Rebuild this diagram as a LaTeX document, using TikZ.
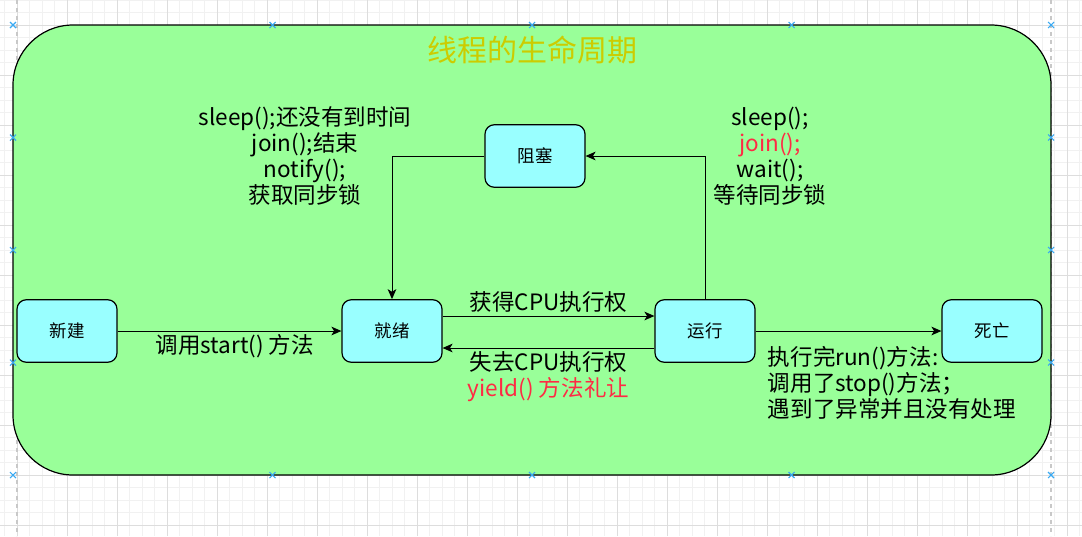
\documentclass[tikz,border=0pt]{standalone}
\usepackage{fontspec}
\setmainfont{Noto Sans CJK SC}
\usepackage{xcolor}
\usetikzlibrary{
    arrows.meta,
    positioning
}

\definecolor{lifegreen}{HTML}{99FF99}
\definecolor{statecyan}{HTML}{99FFFF}
\definecolor{titleyellow}{HTML}{CCCC00}
\definecolor{notered}{HTML}{FF2A44}
\definecolor{gridminor}{HTML}{F1F1F1}
\definecolor{gridmajor}{HTML}{DDDDDD}
\definecolor{pageline}{HTML}{C8C8C8}
\definecolor{handleblue}{HTML}{39A9F2}

\begin{document}
\begin{tikzpicture}[
    x=0.75pt, y=-0.75pt,
    font=\fontsize{16.9pt}{19.6pt}\selectfont,
    container/.style={
        rectangle,
        rounded corners=45pt,
        draw=black,
        line width=0.9pt,
        fill=lifegreen,
        minimum width=778.5pt,
        minimum height=337.5pt
    },
    state/.style={
        rectangle,
        rounded corners=7pt,
        draw=black,
        line width=0.9pt,
        fill=statecyan,
        minimum width=75pt,
        minimum height=46.9pt,
        font=\fontsize{13.1pt}{15pt}\selectfont
    },
    arrow/.style={
        -{Stealth[length=7.5pt,width=6.5pt,inset=2pt]},
        line width=0.75pt,
        draw=black
    },
    note/.style={
        align=center,
        inner sep=2pt
    },
    handle/.style={
        draw=handleblue,
        line width=0.8pt
    }
]

\useasboundingbox (0,0) rectangle (1082,536);

% =========================================================
% Canvas grid and page lines
% =========================================================
\foreach \gx in {4.5,17,...,1082}
    \draw[gridminor, line width=0.5pt] (\gx,0) -- (\gx,536);
\foreach \gy in {0,12.5,...,536}
    \draw[gridminor, line width=0.5pt] (0,\gy) -- (1082,\gy);
\foreach \gx in {17,67,...,1082}
    \draw[gridmajor, line width=0.6pt] (\gx,0) -- (\gx,536);
\foreach \gy in {25,75,...,536}
    \draw[gridmajor, line width=0.6pt] (0,\gy) -- (1082,\gy);
\draw[pageline, dashed, line width=0.8pt] (17,0) -- (17,536);
\draw[pageline, dashed, line width=0.8pt] (1051,0) -- (1051,536);

% =========================================================
% Container and title
% =========================================================
\node[container] (lifecycle) at (532,250) {};
\node[text=titleyellow, font=\fontsize{22.5pt}{26pt}\selectfont] (title) at (532,50)
{线程的生命周期};

\foreach \hx/\hy in {13/25, 272.5/25, 532/25, 791.5/25, 1051/25,
                     13/475, 272.5/475, 532/475, 791.5/475, 1051/475,
                     13/137.5, 13/250, 13/362.5,
                     1051/137.5, 1051/250, 1051/362.5}
    \draw[handle] (\hx-3,\hy-3) -- (\hx+3,\hy+3) (\hx-3,\hy+3) -- (\hx+3,\hy-3);

% =========================================================
% Thread states
% =========================================================
\node[state] (xinjian) at (67,331) {新建};
\node[state] (jiuxu) at (392,331) {就绪};
\node[state] (yunxing) at (705,331) {运行};
\node[state] (siwang) at (992,331) {死亡};
\node[state] (zusai) at (535,156) {阻塞};

% =========================================================
% Transitions
% =========================================================
\draw[arrow] (xinjian) -- node[below, note, xshift=4pt] {调用start() 方法} (jiuxu);

\draw[arrow] ([yshift=11.25pt]jiuxu.east) -- node[above, note] {获得CPU执行权} ([yshift=11.25pt]yunxing.west);
\draw[arrow] ([yshift=-12.75pt]yunxing.west) -- node[below, note]
{失去CPU执行权\\\textcolor{notered}{yield() 方法礼让}} ([yshift=-12.75pt]jiuxu.east);

\draw[arrow] (yunxing.east) -- (siwang.west);
\node[note, anchor=west, align=left] (deathnote) at (765,383)
{执行完run()方法:\\调用了stop()方法；\\遇到了异常并且没有处理};

\draw[arrow] (yunxing.north) |- (zusai.east);
\node[note] (blocknote) at (770,156)
{sleep();\\\textcolor{notered}{join();}\\wait();\\等待同步锁};

\draw[arrow] (zusai.west) -| (jiuxu.north);
\node[note] (wakenote) at (305,156)
{sleep();还没有到时间\\join();结束\\notify();\\获取同步锁};

\end{tikzpicture}
\end{document}
